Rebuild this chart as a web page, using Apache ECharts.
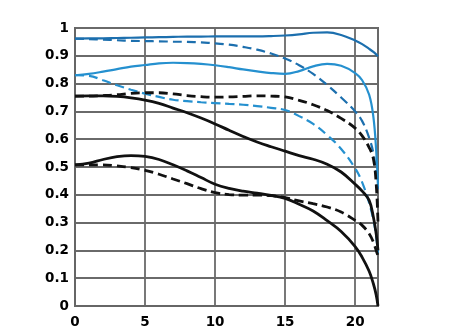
<!DOCTYPE html>
<html>
<head>
<meta charset="utf-8">
<script src="https://cdn.jsdelivr.net/npm/echarts@6/dist/echarts.min.js"></script>
<style>
  html, body { margin: 0; padding: 0; background: #fff; }
  #chart { width: 450px; height: 335px; }
</style>
</head>
<body>
<div id="chart"></div>
<script>
// Image height (mm) at which each MTF value is sampled
const positions = [0, 1, 2, 3, 4, 5, 6, 7, 8, 9, 10, 11, 12, 13, 14, 15, 16, 17, 18, 19, 20, 20.5, 21, 21.3, 21.5, 21.63];

// Blue: 10 lp/mm (solid = sagittal, dashed = meridional)
const blueSolidHigh = [0.962, 0.963, 0.963, 0.964, 0.965, 0.966, 0.967, 0.968, 0.969, 0.969, 0.970, 0.970, 0.970, 0.970, 0.971, 0.973, 0.977, 0.983, 0.984, 0.975, 0.955, 0.942, 0.925, 0.914, 0.905, 0.898];
const blueDashHigh  = [0.962, 0.960, 0.958, 0.956, 0.954, 0.953, 0.952, 0.951, 0.950, 0.948, 0.945, 0.940, 0.932, 0.922, 0.908, 0.890, 0.866, 0.835, 0.795, 0.750, 0.700, 0.665, 0.605, 0.550, 0.480, 0.420];
const blueSolidLow  = [0.830, 0.835, 0.843, 0.852, 0.861, 0.867, 0.873, 0.875, 0.874, 0.871, 0.866, 0.859, 0.851, 0.844, 0.838, 0.835, 0.845, 0.862, 0.871, 0.864, 0.838, 0.812, 0.760, 0.680, 0.560, 0.430];
const blueDashLow   = [0.830, 0.828, 0.812, 0.794, 0.778, 0.764, 0.752, 0.742, 0.737, 0.733, 0.730, 0.727, 0.724, 0.719, 0.713, 0.705, 0.683, 0.655, 0.615, 0.565, 0.495, 0.445, 0.370, 0.310, 0.250, 0.190];

// Black: 30 lp/mm
const blackSolidHigh = [0.755, 0.756, 0.756, 0.754, 0.749, 0.741, 0.729, 0.712, 0.695, 0.676, 0.655, 0.632, 0.610, 0.590, 0.573, 0.557, 0.541, 0.528, 0.510, 0.482, 0.438, 0.413, 0.380, 0.320, 0.260, 0.200];
const blackDashHigh  = [0.755, 0.755, 0.757, 0.760, 0.765, 0.767, 0.767, 0.763, 0.757, 0.753, 0.751, 0.752, 0.754, 0.756, 0.755, 0.752, 0.740, 0.724, 0.703, 0.675, 0.640, 0.612, 0.570, 0.530, 0.440, 0.300];
const blackSolidLow  = [0.508, 0.514, 0.527, 0.537, 0.541, 0.538, 0.527, 0.508, 0.486, 0.462, 0.438, 0.423, 0.413, 0.406, 0.398, 0.387, 0.366, 0.342, 0.307, 0.268, 0.214, 0.175, 0.125, 0.080, 0.040, 0.000];
const blackDashLow   = [0.508, 0.508, 0.508, 0.504, 0.498, 0.488, 0.474, 0.457, 0.440, 0.422, 0.408, 0.401, 0.399, 0.399, 0.397, 0.390, 0.378, 0.368, 0.356, 0.338, 0.308, 0.290, 0.260, 0.230, 0.200, 0.180];

const xTicks = [0, 5, 10, 15, 20];
const xMax = 21.63;

const BLUE_DARK = '#1c6fae';
const BLUE_LIGHT = '#2590cf';
const BLACK = '#111111';

function pairs(ys) {
  return positions.map((x, i) => [x, ys[i]]);
}

function curve(name, ys, color, width, dashed) {
  return {
    name: name,
    type: 'line',
    data: pairs(ys),
    smooth: 0.4,
    symbol: 'none',
    silent: true,
    lineStyle: {
      color: color,
      width: width,
      type: dashed ? [9, 5] : 'solid'
    }
  };
}

const chart = echarts.init(document.getElementById('chart'), null, { renderer: 'canvas' });

const labelFont = {
  color: '#000',
  fontFamily: 'DejaVu Sans',
  fontWeight: 'bold',
  fontSize: 13.5
};

chart.setOption({
  animation: false,
  backgroundColor: '#ffffff',
  grid: {
    left: 75, right: 72, top: 28, bottom: 29,
    show: true,
    borderColor: '#666',
    borderWidth: 2,
    backgroundColor: 'transparent'
  },
  xAxis: {
    type: 'value',
    min: 0,
    max: xMax,
    interval: 5,
    axisLine: { show: true, lineStyle: { color: '#666', width: 2 } },
    axisTick: { show: false },
    splitLine: { show: true, lineStyle: { color: '#6a6a6a', width: 1.8 } },
    axisLabel: Object.assign({
      margin: 9,
      formatter: function (v) {
        return xTicks.indexOf(Math.round(v * 100) / 100) >= 0 ? String(v) : '';
      }
    }, labelFont)
  },
  yAxis: {
    type: 'value',
    min: 0,
    max: 1,
    interval: 0.1,
    axisLine: { show: true, lineStyle: { color: '#666', width: 2 } },
    axisTick: { show: false },
    splitLine: { show: true, lineStyle: { color: '#6a6a6a', width: 1.8 } },
    axisLabel: Object.assign({
      margin: 6,
      formatter: function (v) { return String(+v.toFixed(1)); }
    }, labelFont)
  },
  series: [
    curve('10 lp/mm S', blueSolidHigh, BLUE_DARK, 2.2, false),
    curve('10 lp/mm M', blueDashHigh, BLUE_DARK, 2.2, true),
    curve('10 lp/mm S (f/8)', blueSolidLow, BLUE_LIGHT, 2.2, false),
    curve('10 lp/mm M (f/8)', blueDashLow, BLUE_LIGHT, 2.2, true),
    curve('30 lp/mm S', blackSolidHigh, BLACK, 2.8, false),
    curve('30 lp/mm M', blackDashHigh, BLACK, 2.8, true),
    curve('30 lp/mm S (f/8)', blackSolidLow, BLACK, 2.8, false),
    curve('30 lp/mm M (f/8)', blackDashLow, BLACK, 2.8, true)
  ]
});
</script>
</body>
</html>
